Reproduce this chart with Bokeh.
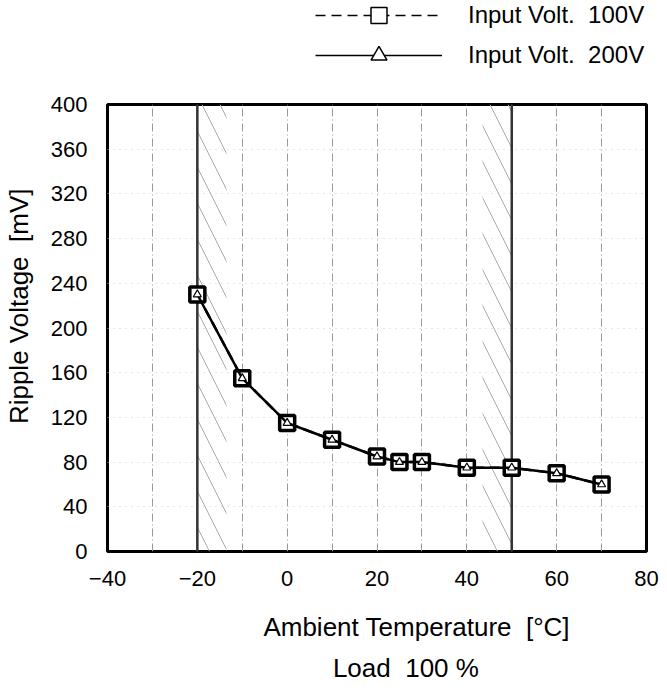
from bokeh.plotting import figure
from bokeh.layouts import column
from bokeh.models import Legend, LegendItem, Span, BoxAnnotation, FixedTicker, Title, Range1d
from bokeh.embed import file_html
from bokeh.resources import INLINE

# ---- data ----
temps = [-20, -10, 0, 10, 20, 25, 30, 40, 50, 60, 70]
ripple_100v = [230, 155, 115, 100, 85, 80, 80, 75, 75, 70, 60]
ripple_200v = [230, 155, 115, 100, 85, 80, 80, 75, 75, 70, 60]
x_ticks = [-40, -20, 0, 20, 40, 60, 80]
y_ticks = [0, 40, 80, 120, 160, 200, 240, 280, 320, 360, 400]
x_grid = [-30, -20, -10, 0, 10, 20, 30, 40, 50, 60, 70]
limit_temps = [-20, 50]
hatch_left = [-20, 43.5]
hatch_right = [-13.5, 50]
NB = "\u00a0"
series_labels = ["Input Volt." + NB * 2 + "100V",
                 "Input Volt." + NB * 2 + "200V"]
x_title = NB * 11 + "Ambient Temperature" + NB * 2 + "[°C]"
y_title = NB * 6 + "Ripple Voltage" + NB * 2 + "[mV]"
cond_title = NB * 8 + "Load" + NB * 2 + "100 %"

FONT = "Liberation Sans"
LEFT, RIGHT = 99, 13
W = 659
LEG_H = 80

# ---- legend strip (separate figure above the chart) ----
leg = figure(width=W, height=LEG_H, x_range=Range1d(1000, 1001), y_range=Range1d(1000, 1001),
             x_axis_type=None, y_axis_type=None, output_backend="svg",
             toolbar_location=None, min_border=0,
             min_border_left=LEFT, min_border_right=RIGHT)
leg.title.visible = False
leg.outline_line_color = None
leg.xgrid.visible = False
leg.ygrid.visible = False
lg1 = leg.line(temps, ripple_100v, line_color="black", line_width=1.5, line_dash="10 6")
lg1m = leg.scatter(temps, ripple_100v, marker="square", fill_color="white",
                   line_color="black", line_width=1.5)
lg2 = leg.line(temps, ripple_200v, line_color="black", line_width=1.5)
lg2m = leg.scatter(temps, ripple_200v, marker="triangle", fill_color="white",
                   line_color="black", line_width=1.5)
legend = Legend(items=[LegendItem(label=series_labels[0], renderers=[lg1, lg1m]),
                       LegendItem(label=series_labels[1], renderers=[lg2, lg2m])],
                location=(208, LEG_H - 75), glyph_width=127, glyph_height=40, label_height=40,
                label_standoff=26, spacing=0, padding=0, margin=0,
                border_line_alpha=0, background_fill_alpha=0,
                label_text_font=FONT, label_text_font_size="24px",
                label_text_baseline="middle", label_text_color="black")
leg.add_layout(legend)

# ---- main chart ----
p = figure(width=W, height=691 - LEG_H, x_range=Range1d(-40, 80), y_range=Range1d(0, 400),
           output_backend="svg", toolbar_location=None,
           min_border_left=LEFT, min_border_right=RIGHT, min_border_top=24, min_border_bottom=140)
p.title.visible = False
p.outline_line_color = "black"
p.outline_line_width = 3

p.xgrid.ticker = FixedTicker(ticks=x_grid)
p.xgrid.grid_line_color = "#999999"
p.xgrid.grid_line_dash = "8 3 1 3"
p.xgrid.grid_line_width = 1
p.ygrid.ticker = FixedTicker(ticks=y_ticks)
p.ygrid.grid_line_color = "#cccccc"
p.ygrid.grid_line_dash = "1 5"

for l, r in zip(hatch_left, hatch_right):
    p.add_layout(BoxAnnotation(left=l, right=r, fill_alpha=0, line_alpha=0,
                               hatch_pattern="\\", hatch_color="#aaaaaa",
                               hatch_scale=36, hatch_weight=1, level="underlay"))
for t in limit_temps:
    p.add_layout(Span(location=t, dimension="height", line_color="#333333",
                      line_width=2.5, level="underlay"))

for ax in (p.xaxis[0], p.yaxis[0]):
    ax.axis_line_color = None
    ax.major_tick_out = 0
    ax.major_tick_in = 0
    ax.minor_tick_out = 0
    ax.minor_tick_in = 0
    ax.major_label_text_font = FONT
    ax.major_label_text_font_size = "22px"
    ax.major_label_text_color = "black"
    ax.axis_label_text_font = FONT
    ax.axis_label_text_font_size = "26px"
    ax.axis_label_text_font_style = "normal"
    ax.axis_label_text_color = "black"
p.xaxis.ticker = FixedTicker(ticks=x_ticks)
p.yaxis.ticker = FixedTicker(ticks=y_ticks)
p.xaxis.major_label_standoff = 19
p.yaxis.major_label_standoff = 20
p.xaxis.axis_label = x_title
p.yaxis.axis_label = y_title
p.xaxis.axis_label_standoff = 23
p.yaxis.axis_label_standoff = 14

t2 = Title(text=cond_title, align="center", text_font=FONT, standoff=13,
           text_font_size="26px", text_font_style="normal", text_color="black")
p.add_layout(t2, "below")

p.line(temps, ripple_100v, line_color="black", line_width=2.5, line_dash="10 6")
p.scatter(temps, ripple_100v, marker="square", size=15, fill_color="white",
          line_color="black", line_width=3.5)
p.line(temps, ripple_200v, line_color="black", line_width=2.5)
p.scatter(temps, ripple_200v, marker="triangle", size=8, fill_color="white",
          line_color="black", line_width=1.2)

layout = column(leg, p, spacing=0)
open("out.html", "w").write(file_html(layout, INLINE))
